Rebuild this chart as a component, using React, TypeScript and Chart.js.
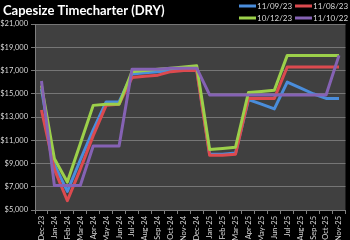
import React, { useEffect, useRef } from "react";
import { Chart, registerables } from "chart.js";

Chart.register(...registerables);

const categories = [
  "Dec-23", "Jan-24", "Feb-24", "Mar-24", "Apr-24", "May-24", "Jun-24", "Jul-24",
  "Aug-24", "Sep-24", "Oct-24", "Nov-24", "Dec-24", "Jan-25", "Feb-25", "Mar-25",
  "Apr-25", "May-25", "Jun-25", "Jul-25", "Aug-25", "Sep-25", "Oct-25", "Nov-25",
];

const s110923 = [15400, 8900, 6600, 9300, 11900, 14300, 14300, 16700, 16800, 16900, 17000, 17100, 17100, 9800, 9800, 9900, 14500, 14100, 13700, 16000, 15500, 15000, 14600, 14600];
const s110823 = [13600, 8500, 5800, 8500, 11400, 14000, 14100, 16400, 16500, 16600, 16900, 17000, 17000, 9700, 9700, 9800, 14600, 14600, 14600, 17300, 17300, 17300, 17300, 17300];
const s101223 = [15700, 9400, 7400, 10700, 14000, 14100, 14100, 16900, 17000, 17100, 17200, 17300, 17400, 10200, 10300, 10400, 15100, 15200, 15300, 18300, 18300, 18300, 18300, 18300];
const s111022 = [16100, 7100, 7100, 7100, 10500, 10500, 10500, 17100, 17100, 17100, 17200, 17200, 17200, 14900, 14900, 14900, 14900, 14900, 14900, 14900, 14900, 14900, 14900, 18300];

const seriesLabels = ["11/09/23", "11/08/23", "10/12/23", "11/10/22"];
const seriesColors = ["#4a8ddb", "#dc4a4f", "#9cd04a", "#8562b4"];
const seriesData = [s110923, s110823, s101223, s111022];

const titleText = "Capesize Timecharter (DRY)";
const yMin = 5000;
const yMax = 21000;
const yStep = 2000;

const FONT = "Lato, 'Liberation Sans', sans-serif";

export default function App() {
  const ref = useRef<HTMLCanvasElement | null>(null);

  useEffect(() => {
    document.body.style.margin = "0";
    const canvas = ref.current;
    if (!canvas) return;

    const bgPlugin = {
      id: "bgPlugin",
      beforeDraw(chart: any) {
        const { ctx, chartArea } = chart;
        ctx.save();
        ctx.fillStyle = "#000000";
        ctx.fillRect(0, 0, chart.width, chart.height);
        ctx.fillStyle = "#404040";
        ctx.fillRect(chartArea.left, chartArea.top, chartArea.right - chartArea.left, chartArea.bottom - chartArea.top);
        ctx.restore();
      },
      afterDraw(chart: any) {
        const { ctx } = chart;
        ctx.save();
        ctx.fillStyle = "#ffffff";
        ctx.font = `bold 13px ${FONT}`;
        ctx.textBaseline = "middle";
        ctx.textAlign = "left";
        ctx.fillText(titleText, 3, 11);

        const pos = [
          [239, 6], [295, 6], [239, 18], [295, 18],
        ];
        ctx.font = `8px ${FONT}`;
        seriesLabels.forEach((lab, i) => {
          const [x, y] = pos[i];
          ctx.strokeStyle = seriesColors[i];
          ctx.lineWidth = 3;
          ctx.beginPath();
          ctx.moveTo(x, y);
          ctx.lineTo(x + 17, y);
          ctx.stroke();
          ctx.fillStyle = "#d9d9d9";
          ctx.fillText(lab, x + 18, y);
        });
        ctx.restore();
      },
    };

    const chart = new Chart(canvas, {
      type: "line",
      data: {
        labels: categories,
        datasets: seriesData.map((d, i) => ({
          label: seriesLabels[i],
          data: d,
          borderColor: seriesColors[i],
          backgroundColor: seriesColors[i],
          borderWidth: 3,
          pointRadius: 0,
          tension: 0,
          borderJoinStyle: "round" as const,
          order: 3 - i,
        })),
      },
      options: {
        responsive: false,
        animation: false,
        layout: { padding: { top: 24, left: 0, right: 0, bottom: 0 } },
        plugins: {
          legend: { display: false },
          title: { display: false },
          tooltip: { enabled: false },
        },
        scales: {
          x: {
            type: "category",
            offset: true,
            grid: {
              offset: true,
              drawOnChartArea: false,
              drawTicks: true,
              tickLength: 4,
              color: "#7f7f7f",
            },
            border: { display: true, color: "#7f7f7f" },
            ticks: {
              color: "#d9d9d9",
              font: { family: FONT, size: 7.5 },
              minRotation: 90,
              maxRotation: 90,
              autoSkip: false,
              padding: 2,
            },
            afterFit: (s: any) => {
              s.height = 30;
            },
          },
          y: {
            min: yMin,
            max: yMax,
            grid: {
              color: "#767676",
              tickLength: 4,
              lineWidth: 1,
            },
            border: { display: true, color: "#7f7f7f" },
            ticks: {
              stepSize: yStep,
              color: "#d9d9d9",
              font: { family: FONT, size: 7.5 },
              padding: 3,
              callback: (v: any) => "$" + Number(v).toLocaleString("en-US"),
            },
            afterFit: (s: any) => {
              s.width = 35;
            },
          },
        },
      },
      plugins: [bgPlugin],
    });

    return () => chart.destroy();
  }, []);

  return <canvas ref={ref} width={350} height={240} style={{ display: "block" }} />;
}
